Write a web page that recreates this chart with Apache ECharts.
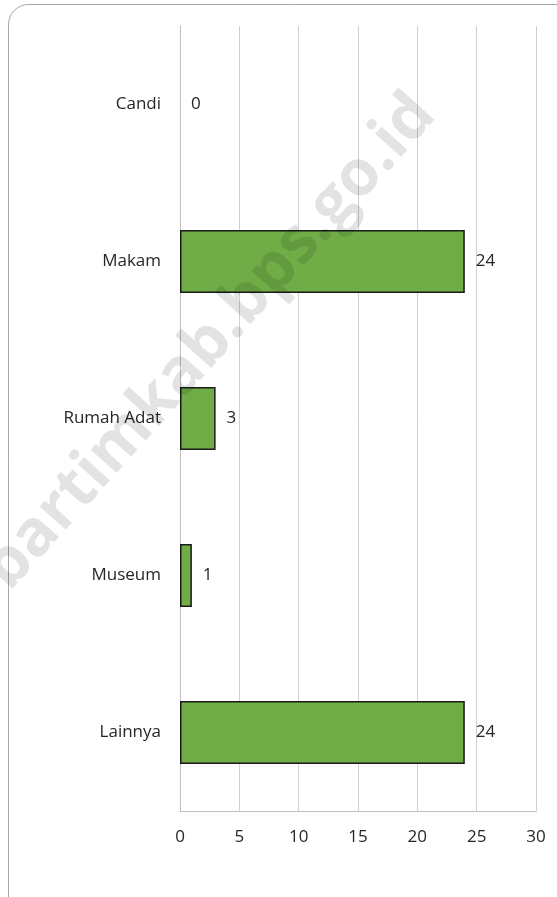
<!DOCTYPE html>
<html>
<head>
<meta charset="utf-8">
<script src="https://cdn.jsdelivr.net/npm/echarts@6/dist/echarts.min.js"></script>
<style>
  html, body { margin: 0; padding: 0; background: #fff; }
  #chart { width: 557px; height: 897px; }
</style>
</head>
<body>
<div id="chart"></div>
<script>
const categories = ['Candi', 'Makam', 'Rumah Adat', 'Museum', 'Lainnya'];
const values = [0, 24, 3, 1, 24];
const xTicks = { min: 0, max: 30, interval: 5 };
const watermarkText = 'bartimkab.bps.go.id';

const chart = echarts.init(document.getElementById('chart'), null, { renderer: 'canvas' });
const font = '"Open Sans", "Noto Sans", sans-serif';

// zero-valued bars get no outline (as in the reference)
const barData = values.map(v => v === 0 ? { value: v, itemStyle: { borderWidth: 0 } } : v);

chart.setOption({
  backgroundColor: '#ffffff',
  animation: false,
  grid: { left: 180, right: 21, top: 26, bottom: 86, containLabel: false },
  xAxis: {
    type: 'value',
    min: xTicks.min, max: xTicks.max, interval: xTicks.interval,
    axisLine: { show: true, lineStyle: { color: '#bfbfbf', width: 1 } },
    axisTick: { show: false },
    splitLine: { show: true, lineStyle: { color: '#d0d0d0', width: 1 } },
    axisLabel: { color: '#262626', fontSize: 17, fontFamily: font, margin: 18 }
  },
  yAxis: {
    type: 'category',
    data: categories,
    inverse: true,
    axisLine: { show: true, lineStyle: { color: '#bfbfbf', width: 1 } },
    axisTick: { show: false },
    splitLine: { show: false },
    axisLabel: { color: '#262626', fontSize: 17, fontFamily: font, margin: 19 }
  },
  series: [{
    type: 'bar',
    data: barData,
    barWidth: '40%',
    itemStyle: { color: '#70AD47', borderColor: '#1a1a1a', borderWidth: 1.5 },
    label: {
      show: true, position: 'right', distance: 11,
      color: '#262626', fontSize: 17, fontFamily: font
    }
  }],
  graphic: [
    {
      type: 'rect', z: 100, silent: true,
      shape: { x: 8.5, y: 4.5, width: 570, height: 920, r: 20 },
      style: { fill: 'none', stroke: '#a6a6a6', lineWidth: 1 }
    },
    {
      type: 'text', z: 101, silent: true,
      x: 210, y: 342, rotation: 48 * Math.PI / 180,
      style: {
        text: watermarkText,
        fill: 'rgba(0,0,0,0.11)',
        font: 'bold 64px "Open Sans", "Noto Sans", sans-serif',
        align: 'center', verticalAlign: 'middle'
      }
    }
  ]
});
</script>
</body>
</html>
